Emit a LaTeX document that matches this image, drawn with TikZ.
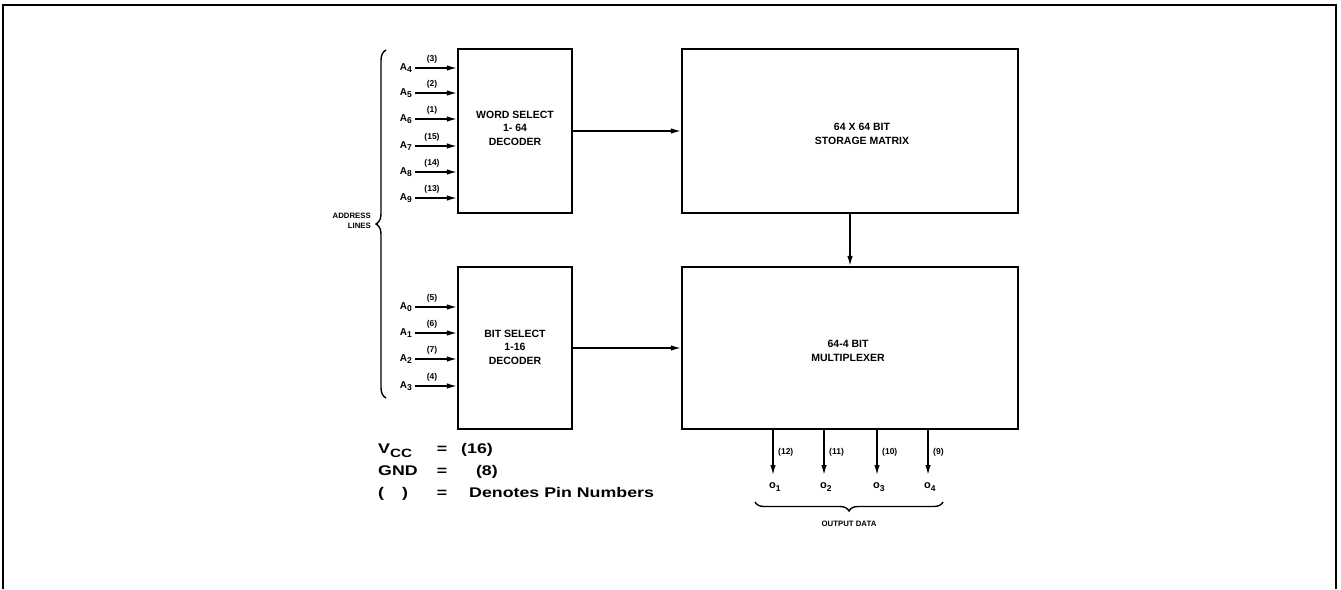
\documentclass[tikz,border=0pt]{standalone}
\usepackage{fontspec}
\setmainfont{Liberation Sans}
\newfontfamily\widefont[FakeStretch=1.27]{Liberation Sans}
\usetikzlibrary{arrows.meta,decorations.pathreplacing}
\tikzset{
  blk/.style={draw, line width=2.2pt, inner sep=0pt},
  blktxt/.style={align=center, font=\bfseries\fontsize{10.5}{13.5}\selectfont, inner sep=0pt},
  sig/.style={line width=1.4pt, -{Latex[length=10pt,width=5.5pt]}},
  ain/.style={anchor=base east, inner sep=0pt, font=\bfseries\fontsize{10}{12}\selectfont},
  pin/.style={inner sep=0pt, font=\bfseries\fontsize{8.5}{10}\selectfont},
  lgd/.style={inner sep=0pt, anchor=base west, font=\widefont\bfseries\fontsize{14}{16}\selectfont},
  brc/.style={decorate, decoration={brace, amplitude=10pt}, line width=1.4pt},
  small/.style={inner sep=0pt, font=\bfseries\fontsize{7.8}{10}\selectfont}
}
\begin{document}
\begin{tikzpicture}[x=1pt,y=-1pt]
\useasboundingbox (0,0) rectangle (1341,589);
\draw[line width=2pt] (3,589) -- (3,5) -- (1336,5) -- (1336,589);

% blocks
\node[blk, minimum width=114pt, minimum height=164pt] (word) at (515,131) {};
\node[blk, minimum width=114pt, minimum height=162pt] (bit) at (515,348) {};
\node[blk, minimum width=336pt, minimum height=164pt] (stor) at (850,131) {};
\node[blk, minimum width=336pt, minimum height=162pt] (mux) at (850,348) {};

\node[blktxt] (wordt) at (515,128) {WORD SELECT\\1- 64\\DECODER};
\node[blktxt] (bitt) at (515,347) {BIT SELECT\\1-16\\DECODER};
\node[blktxt] (stort) at (862,134) {64 X 64 BIT\\STORAGE MATRIX};
\node[blktxt] (muxt) at (848,351) {64-4 BIT\\MULTIPLEXER};

\draw[sig] (word.east) -- (stor.west);
\draw[sig] (bit.east) -- (mux.west);
\draw[sig] (stor.south) -- (mux.north);

% address inputs
\foreach \n/\y/\p in {4/68/3, 5/93/2, 6/119/1, 7/146/15, 8/172/14, 9/198/13,
                      0/307/5, 1/333/6, 2/359/7, 3/386/4} {
  \node[ain] (a\n) at (412,\y+2) {A\raisebox{-2.5pt}{\fontsize{8.5}{10}\selectfont\n}};
  \coordinate (s\n) at (415,\y);
  \node[pin] (p\n) at (432,\y-9) {(\p)};
}
\draw[sig] (s4) -- (word.west |- s4);
\draw[sig] (s5) -- (word.west |- s5);
\draw[sig] (s6) -- (word.west |- s6);
\draw[sig] (s7) -- (word.west |- s7);
\draw[sig] (s8) -- (word.west |- s8);
\draw[sig] (s9) -- (word.west |- s9);
\draw[sig] (s0) -- (bit.west |- s0);
\draw[sig] (s1) -- (bit.west |- s1);
\draw[sig] (s2) -- (bit.west |- s2);
\draw[sig] (s3) -- (bit.west |- s3);

% address brace
\coordinate (bb) at (386,398);
\coordinate (bt) at (386,50);
\draw[brc] (bb) -- (bt);
\node[small, align=right, anchor=east] (addr) at (371,221) {ADDRESS\\LINES};

% outputs
\foreach \i/\x/\p in {1/773/12, 2/824/11, 3/877/10, 4/928/9} {
  \coordinate (e\i) at (\x,475);
  \node[pin, anchor=west] (q\i) at (\x+5,452) {(\p)};
  \node[inner sep=0pt, anchor=north west, font=\bfseries\fontsize{11}{12}\selectfont] (o\i) at (\x-4,482) {o\raisebox{-3pt}{\fontsize{8.5}{10}\selectfont\i}};
}
\draw[sig] (mux.south -| e1) -- (e1);
\draw[sig] (mux.south -| e2) -- (e2);
\draw[sig] (mux.south -| e3) -- (e3);
\draw[sig] (mux.south -| e4) -- (e4);

\coordinate (ob1) at (943,502);
\coordinate (ob2) at (755,502);
\draw[brc, decoration={brace, amplitude=9pt}] (ob1) -- (ob2);
\node[small] (odata) at (849,524) {OUTPUT DATA};

% legend
\node[lgd] (l1) at (378,453) {V\raisebox{-4pt}{\fontsize{12}{14}\selectfont CC}};
\node[lgd] (l2) at (378,475) {GND};
\node[lgd] (l3) at (378,497) {(\hspace{18pt})};
\node[lgd, anchor=base] (q1e) at (442,453) {=};
\node[lgd, anchor=base] (q2e) at (442,475) {=};
\node[lgd, anchor=base] (q3e) at (442,497) {=};
\node[lgd] (v1) at (461,453) {(16)};
\node[lgd, anchor=base east] (v2) at (498,475) {(8)};
\node[lgd] (v3) at (469,497) {Denotes Pin Numbers};
\end{tikzpicture}
\end{document}
